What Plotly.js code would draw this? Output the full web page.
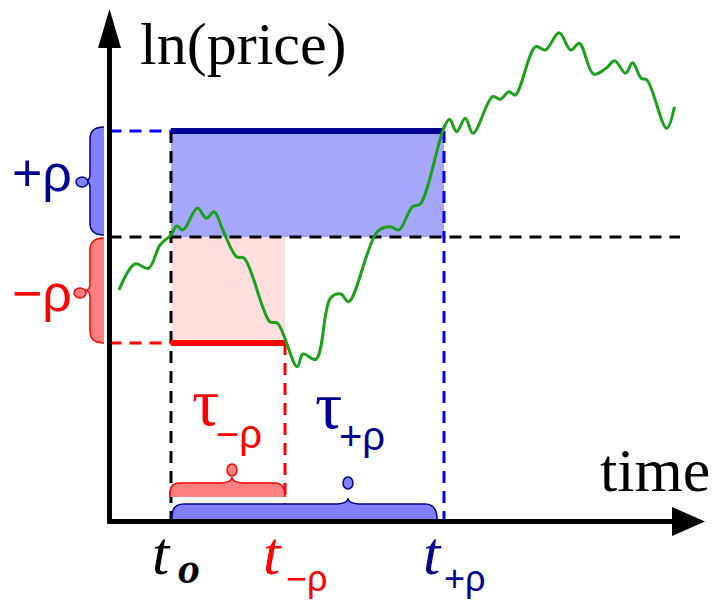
<!DOCTYPE html>
<html>
<head>
<meta charset="utf-8">
<script src="https://cdn.plot.ly/plotly-3.0.1.min.js"></script>
<style>html,body{margin:0;padding:0;background:#fff;}#chart{width:719px;height:602px;}</style>
</head>
<body>
<div id="chart"></div>
<script>
// Price path (time, ln(price)) (screen-like units, y grows downward)
const pathTime = [119,135,148.5,160,171,176.7,183,197.4,206.4,214.2,222.8,236.5,244.3,269.8,277.6,297.1,303,315.9,330.4,340.9,348.7,377.3,390.2,398.8,412.5,420.3,443.7,449.6,456.6,465.3,473.1,492.6,500.4,509,515.3,535.6,545.4,559.1,570.8,579.4,593.5,606,614.6,625.6,632.6,641.2,647,666.6,674.4];
const pathLnPrice = [290,264,268.3,245,235,226,230,208.3,218.3,211.7,230,256.7,258.3,321.7,323.3,366.7,354,359.3,298.3,294,301.7,231.7,226.7,230,206.7,204,128.3,119.3,131.7,118.3,133.3,96.7,99.3,91.7,95,46.7,50,32.7,50,43.3,74,68.3,60.7,73.3,62.7,78.3,80,128.3,106.7];

// Levels and times
const levelStart = 237, levelUp = 131, levelDown = 343;
const tStart = 171, tDown = 285, tUp = 444;
const axisX = 109.5, axisY = 521.5, axisRight = 680;

const NAVY = '#000090', BLUE = '#0000ff', RED = '#ff0000';

function line(x0,y0,x1,y1,color,width,dash){
  return {type:'line',xref:'x',yref:'y',x0,y0,x1,y1,layer:'below',line:{color,width,dash:dash||'solid'}};
}
function rect(x0,y0,x1,y1,fill){
  return {type:'rect',xref:'x',yref:'y',x0,y0,x1,y1,layer:'below',fillcolor:fill,line:{width:0}};
}
function path(p,fill,lc,lw){
  return {type:'path',xref:'x',yref:'y',path:p,layer:'below',fillcolor:fill||'rgba(0,0,0,0)',line:{color:lc||'rgba(0,0,0,0)',width:lw||0}};
}
function ellipse(cx,cy,rx,ry,fill,lc){
  return {type:'circle',xref:'x',yref:'y',x0:cx-rx,x1:cx+rx,y0:cy-ry,y1:cy+ry,layer:'below',fillcolor:fill,line:{color:lc,width:1.5}};
}
function braceLeft(xr,xl,y1,y2,r,closed){
  const ym=(y1+y2)/2;
  let p=`M ${xr},${y1} Q ${xl},${y1} ${xl},${y1+r} L ${xl},${ym-7} Q ${xl},${ym} ${xl-5},${ym} Q ${xl},${ym} ${xl},${ym+7} L ${xl},${y2-r} Q ${xl},${y2} ${xr},${y2}`;
  return closed ? p+' Z' : p;
}
function braceUp(x1,x2,yb,yt,r,xm,closed){
  let p=`M ${x1},${yb} L ${x1},${yt+r} Q ${x1},${yt} ${x1+r},${yt} L ${xm-14},${yt} Q ${xm},${yt} ${xm},${yt-6} Q ${xm},${yt} ${xm+14},${yt} L ${x2-r},${yt} Q ${x2},${yt} ${x2},${yb}`;
  return closed ? p+' Z' : p;
}

const shapes = [
  rect(tStart,levelUp,tUp,levelStart,'#a4a7fb'),
  rect(tStart,levelStart,tDown,levelDown,'#ffdede'),
  line(axisX,levelStart,axisRight,levelStart,'#000',3,'12px,8px'),
  line(tStart,levelUp,tStart,axisY,'#000',3,'12px,8px'),
  line(axisX,levelUp,tStart,levelUp,BLUE,3,'12px,8px'),
  line(tUp,levelUp,tUp,axisY,BLUE,3,'12px,8px'),
  line(axisX,levelDown,tStart,levelDown,RED,3,'12px,8px'),
  line(tDown,levelDown,tDown,axisY,RED,3,'12px,8px'),
  line(tStart,levelUp,tUp,levelUp,NAVY,6),
  line(tStart,levelDown,tDown,levelDown,RED,6),
  // left braces
  path(braceLeft(104,90,127,235,12,true),'#8080fb'),
  path(braceLeft(104,90,127,235,12,false),null,NAVY,1.5),
  ellipse(82,182,6,5,'#8080fb',NAVY),
  path(braceLeft(104,90,238,343,12,true),'#ff8080'),
  path(braceLeft(104,90,238,343,12,false),null,RED,1.5),
  ellipse(80,293,6,5,'#ff8080',RED),
  // bottom braces
  path(braceUp(170,285,497,483,10,232,true),'#ff8080'),
  path(braceUp(170,285,497,483,10,232,false),null,RED,1.5),
  ellipse(232,470,5,6,'#ff8080',RED),
  path(braceUp(172,437,519,504,12,348,true),'#8080fb'),
  path(braceUp(172,437,519,504,12,348,false),null,NAVY,1.5),
  ellipse(348,483,5,6,'#8080fb',NAVY),
  // axes with arrows
  line(axisX,axisY+2,axisX,45,'#000',5),
  path(`M ${axisX},9 L 98,48 L 121,48 Z`,'#000'),
  line(axisX-2,axisY,675,axisY,'#000',5),
  path(`M 705,${axisY} L 672,507 L 672,536 Z`,'#000')
];

function ann(text,x,y,size,color,family,xanchor){
  return {text,x,y,xref:'x',yref:'y',showarrow:false,xanchor:xanchor||'left',yanchor:'middle',
    font:{size,color,family}};
}
const SERIF='Liberation Serif, Times New Roman, serif';
const SANS='Liberation Sans, Arial, sans-serif';
const annotations = [
  ann('ln(price)',138,44,60,'#000',SERIF),
  ann('time',598,470,62,'#000',SERIF),
  ann('+ρ',10,173,52,NAVY,SANS),
  ann('−ρ',10,293,52,RED,SANS),
  ann('τ',190,402,68,RED,SERIF),
  ann('−ρ',214,434,40,RED,SANS),
  ann('τ',313,405,68,NAVY,SERIF),
  ann('+ρ',337,436,40,NAVY,SANS),
  ann('<i>t</i>',150,553,62,'#000',SERIF),
  ann('<b><i>o</i></b>',176,568,44,'#000',SERIF),
  ann('<i>t</i>',261,553,62,RED,SERIF),
  ann('−ρ',284,578,36,RED,SANS),
  ann('<i>t</i>',421,553,62,NAVY,SERIF),
  ann('+ρ',442,578,36,NAVY,SANS)
];

const traces = [{
  x: pathTime, y: pathLnPrice, type:'scatter', mode:'lines',
  line:{color:'#1ca01c', width:3, shape:'spline', smoothing:1},
  hoverinfo:'skip'
}];

const layout = {
  width:719, height:602,
  margin:{l:0,r:0,t:0,b:0},
  paper_bgcolor:'#fff', plot_bgcolor:'#fff',
  showlegend:false,
  xaxis:{range:[0,719],visible:false,fixedrange:true},
  yaxis:{range:[602,0],visible:false,fixedrange:true},
  shapes, annotations
};
Plotly.newPlot('chart',traces,layout,{staticPlot:true});
</script>
</body>
</html>
